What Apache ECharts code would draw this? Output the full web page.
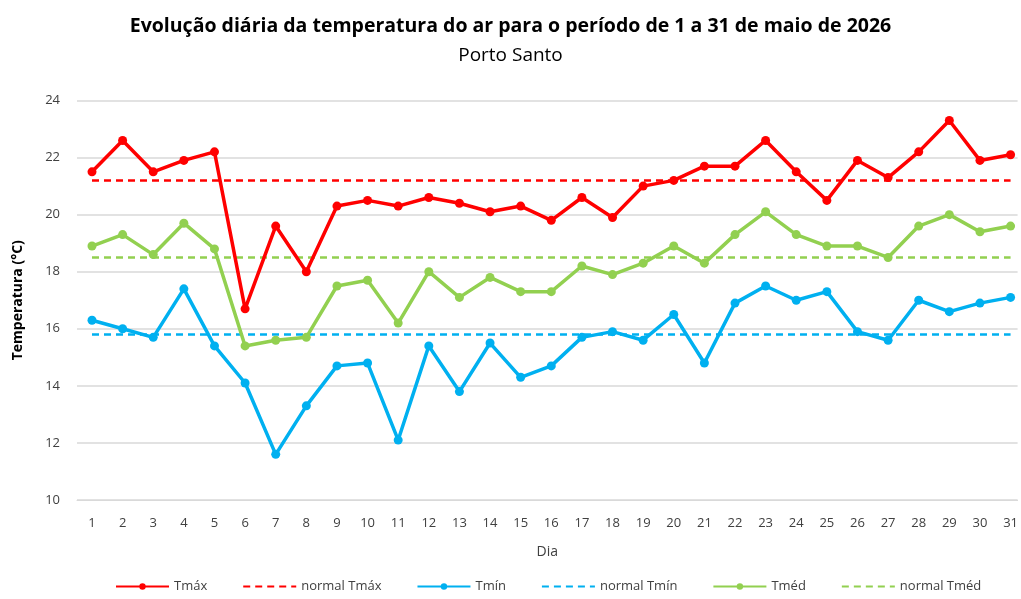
<!DOCTYPE html>
<html><head><meta charset="utf-8">
<script src="https://cdn.jsdelivr.net/npm/echarts@6/dist/echarts.min.js"></script>
<style>html,body{margin:0;padding:0;background:#fff}#c{width:1021px;height:599px}</style>
</head><body><div id="c"></div>
<script>
const days = [1,2,3,4,5,6,7,8,9,10,11,12,13,14,15,16,17,18,19,20,21,22,23,24,25,26,27,28,29,30,31];
const tmax = [21.5,22.6,21.5,21.9,22.2,16.7,19.6,18.0,20.3,20.5,20.3,20.6,20.4,20.1,20.3,19.8,20.6,19.9,21.0,21.2,21.7,21.7,22.6,21.5,20.5,21.9,21.3,22.2,23.3,21.9,22.1];
const tmin = [16.3,16.0,15.7,17.4,15.4,14.1,11.6,13.3,14.7,14.8,12.1,15.4,13.8,15.5,14.3,14.7,15.7,15.9,15.6,16.5,14.8,16.9,17.5,17.0,17.3,15.9,15.6,17.0,16.6,16.9,17.1];
const tmed = [18.9,19.3,18.6,19.7,18.8,15.4,15.6,15.7,17.5,17.7,16.2,18.0,17.1,17.8,17.3,17.3,18.2,17.9,18.3,18.9,18.3,19.3,20.1,19.3,18.9,18.9,18.5,19.6,20.0,19.4,19.6];
const normalTmax = 21.2;
const normalTmin = 15.8;
const normalTmed = 18.5;
const yTicks = [10,12,14,16,18,20,22,24];

const RED = '#FF0000', BLUE = '#00B0F0', GREEN = '#92D050';
const font = "'Open Sans', 'Noto Sans', sans-serif";
const firstDay = days[0], lastDay = days[days.length - 1];

function solid(name, vals, color) {
  return { name, type: 'line', data: days.map((d, i) => [d, vals[i]]), symbol: 'circle', symbolSize: 9, color,
    lineStyle: { width: 3.5, color }, itemStyle: { color }, z: 3 };
}
function dashed(name, val, color) {
  return { name, type: 'line', data: [[firstDay, val], [lastDay, val]], symbol: 'none', color,
    lineStyle: { width: 2.5, type: [7, 5], color }, itemStyle: { color }, z: 2 };
}
const hiddenMarker = { color: 'rgba(0,0,0,0)', borderWidth: 0, opacity: 0 };

const chart = echarts.init(document.getElementById('c'));
chart.setOption({
  animation: false,
  textStyle: { fontFamily: font },
  title: [
    { text: 'Evolução diária da temperatura do ar para o período de 1 a 31 de maio de 2026', left: 'center', top: 11,
      textStyle: { fontFamily: font, fontSize: 19.5, fontWeight: 'bold', color: '#000' } },
    { text: 'Porto Santo', left: 'center', top: 41, textStyle: { fontFamily: font, fontSize: 19, fontWeight: 'normal', color: '#000' } }
  ],
  grid: { left: 77, right: 1, top: 100.5, bottom: 99, containLabel: false },
  legend: {
    bottom: 1, left: 110, itemWidth: 53, itemHeight: 8, itemGap: 35,
    textStyle: { fontFamily: font, fontSize: 13, color: '#404040' },
    data: [
      { name: 'Tmáx' },
      { name: 'normal Tmáx', itemStyle: hiddenMarker },
      { name: 'Tmín' },
      { name: 'normal Tmín', itemStyle: hiddenMarker },
      { name: 'Tméd' },
      { name: 'normal Tméd', itemStyle: hiddenMarker }
    ]
  },
  xAxis: {
    type: 'value', min: 0.51, max: 31.23,
    name: 'Dia', nameLocation: 'middle', nameGap: 45,
    nameTextStyle: { fontFamily: font, fontSize: 14, color: '#404040' },
    axisLine: { show: true, onZero: false, lineStyle: { color: '#d9d9d9', width: 1 } },
    axisTick: { show: false },
    splitLine: { show: false },
    axisLabel: { fontFamily: font, fontSize: 13, color: '#404040', margin: 17, customValues: days,
      showMinLabel: true, showMaxLabel: true }
  },
  yAxis: {
    type: 'value', min: 10, max: 24, interval: 2,
    name: 'Temperatura (°C)', nameLocation: 'middle', nameGap: 52, nameRotate: 90,
    nameTextStyle: { fontFamily: font, fontSize: 14, fontWeight: 'bold', color: '#000' },
    axisLine: { show: false }, axisTick: { show: false },
    axisLabel: { fontFamily: font, fontSize: 13, color: '#404040', margin: 17,
      formatter: v => yTicks.includes(v) ? String(v) : '' },
    splitLine: { lineStyle: { color: '#d9d9d9', width: 1.5 } }
  },
  series: [
    solid('Tmáx', tmax, RED),
    dashed('normal Tmáx', normalTmax, RED),
    solid('Tmín', tmin, BLUE),
    dashed('normal Tmín', normalTmin, BLUE),
    solid('Tméd', tmed, GREEN),
    dashed('normal Tméd', normalTmed, GREEN)
  ]
});
</script></body></html>
